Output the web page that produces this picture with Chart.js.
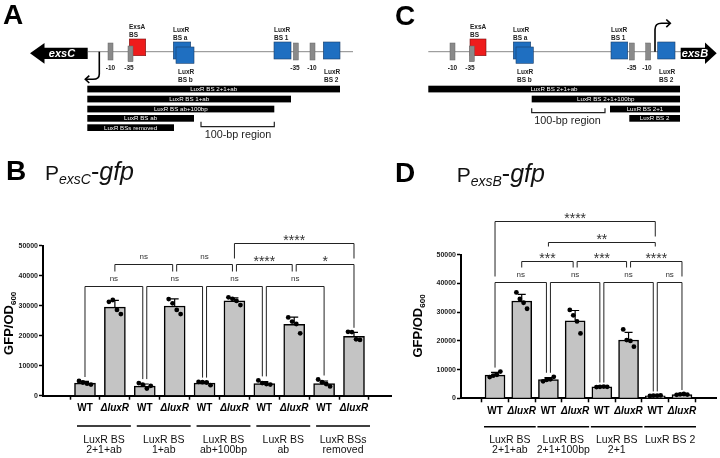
<!DOCTYPE html>
<html>
<head>
<meta charset="utf-8">
<script src="https://cdn.jsdelivr.net/npm/chart.js@4.4.1/dist/chart.umd.min.js"></script>
<style>
  body { margin: 0; background: #fff; font-family: 'Liberation Sans', Arial, sans-serif; }
  #fig { position: relative; width: 720px; height: 458px; overflow: hidden; }
  #chartB { position: absolute; left: 0; top: 150px; }
  #chartD { position: absolute; left: 360px; top: 150px; }
  svg { position: absolute; left: 0; top: 0; }
  .panel { font: bold 28px 'Liberation Sans', Arial, sans-serif; }
  .lbl { font: bold 6.5px 'Liberation Sans', Arial, sans-serif; fill: #222; }
  .bar { font: 6.2px 'Liberation Sans', Arial, sans-serif; fill: #fff; }
  .gene { font: italic bold 11px 'Liberation Sans', Arial, sans-serif; fill: #fff; }
  .reg { font: 10.8px 'Liberation Sans', Arial, sans-serif; fill: #222; }
  .grey { fill: #8a8a8a; stroke: #666; stroke-width: .5; }
  .blue { fill: #1f6fc1; stroke: #1b3f6a; stroke-width: .6; }
  .red { fill: #ee1c1c; stroke: #7a1010; stroke-width: .6; }
</style>
</head>
<body>
<div id="fig">
<canvas id="chartB" width="395" height="308"></canvas>
<canvas id="chartD" width="360" height="308"></canvas>
<svg width="720" height="458" xmlns="http://www.w3.org/2000/svg">
  <!-- panel A -->
  <text x="3" y="24" class="panel">A</text>
  <line x1="88" y1="51.7" x2="353" y2="51.7" stroke="#888" stroke-width="1"/>
  <polygon points="30,53.3 44.5,43 44.5,47.7 87.7,47.7 87.7,59 44.5,59 44.5,63.7" fill="#000"/>
  <text x="62" y="57.4" class="gene" text-anchor="middle">exsC</text>
  <rect x="108" y="43" width="5" height="17" class="grey"/>
  <rect x="129.3" y="39" width="16.4" height="16.7" class="red"/>
  <rect x="128" y="46" width="5" height="15.7" class="grey"/>
  <rect x="173.3" y="42" width="17.4" height="17" class="blue"/>
  <rect x="176" y="47" width="18" height="16.3" class="blue"/>
  <rect x="274" y="42" width="17" height="17" class="blue"/>
  <rect x="293.3" y="43" width="5" height="17" class="grey"/>
  <rect x="310" y="43" width="5" height="17" class="grey"/>
  <rect x="323.3" y="42" width="16.7" height="17" class="blue"/>
  <text x="110.5" y="70" class="lbl" text-anchor="middle">-10</text>
  <text x="129" y="70" class="lbl" text-anchor="middle">-35</text>
  <text x="129" y="28.5" class="lbl">ExsA</text><text x="129" y="37" class="lbl">BS</text>
  <text x="173" y="31.5" class="lbl">LuxR</text><text x="173" y="40" class="lbl">BS a</text>
  <text x="178" y="73.5" class="lbl">LuxR</text><text x="178" y="82" class="lbl">BS b</text>
  <text x="274" y="31.5" class="lbl">LuxR</text><text x="274" y="40" class="lbl">BS 1</text>
  <text x="295" y="69.5" class="lbl" text-anchor="middle">-35</text>
  <text x="312" y="69.5" class="lbl" text-anchor="middle">-10</text>
  <text x="324" y="73.5" class="lbl">LuxR</text><text x="324" y="82" class="lbl">BS 2</text>
  <path d="M99.3 51.7 V74 Q99.3 79.3 93 79.3 H85.5" fill="none" stroke="#000" stroke-width="1.6"/>
  <polyline points="89.3,75.6 85.3,79.3 89.3,83" fill="none" stroke="#000" stroke-width="1.6"/>
  <rect x="87.3" y="85.7" width="252.7" height="6.7" fill="#000"/>
  <text x="213.7" y="90.9" class="bar" text-anchor="middle">LuxR BS 2+1+ab</text>
  <rect x="87.3" y="95.7" width="203.7" height="6.7" fill="#000"/>
  <text x="189.2" y="100.9" class="bar" text-anchor="middle">LuxR BS 1+ab</text>
  <rect x="87.3" y="105.7" width="187" height="6.7" fill="#000"/>
  <text x="180.8" y="110.9" class="bar" text-anchor="middle">LuxR BS ab+100bp</text>
  <rect x="87.3" y="115" width="106.7" height="6.7" fill="#000"/>
  <text x="140.6" y="120.2" class="bar" text-anchor="middle">LuxR BS ab</text>
  <rect x="87.3" y="124.3" width="86.7" height="6.7" fill="#000"/>
  <text x="130.6" y="129.5" class="bar" text-anchor="middle">LuxR BSs removed</text>
  <path d="M201 121.7 V126.7 H274.3 V121.7" fill="none" stroke="#222" stroke-width="1.2"/>
  <text x="238" y="138" class="reg" text-anchor="middle">100-bp region</text>

  <!-- panel C -->
  <text x="395" y="25" class="panel">C</text>
  <line x1="428.3" y1="51.7" x2="681" y2="51.7" stroke="#888" stroke-width="1"/>
  <rect x="450" y="43" width="5" height="17" class="grey"/>
  <rect x="470" y="39" width="16" height="16.7" class="red"/>
  <rect x="469.3" y="46" width="5" height="15.7" class="grey"/>
  <rect x="513.3" y="42" width="17.4" height="17" class="blue"/>
  <rect x="516" y="47" width="17.3" height="16.3" class="blue"/>
  <rect x="611" y="42" width="16.7" height="17" class="blue"/>
  <rect x="629.3" y="43" width="5" height="17" class="grey"/>
  <rect x="645.7" y="43" width="5" height="17" class="grey"/>
  <rect x="657.7" y="42" width="17.3" height="17" class="blue"/>
  <polygon points="680.7,47.7 705,47.7 705,42.5 716.7,53.3 705,64 705,59 680.7,59" fill="#000"/>
  <text x="695" y="57.4" class="gene" text-anchor="middle">exsB</text>
  <text x="452.5" y="70" class="lbl" text-anchor="middle">-10</text>
  <text x="470" y="70" class="lbl" text-anchor="middle">-35</text>
  <text x="470" y="28.5" class="lbl">ExsA</text><text x="470" y="37" class="lbl">BS</text>
  <text x="513" y="31.5" class="lbl">LuxR</text><text x="513" y="40" class="lbl">BS a</text>
  <text x="517" y="73.5" class="lbl">LuxR</text><text x="517" y="82" class="lbl">BS b</text>
  <text x="611" y="31.5" class="lbl">LuxR</text><text x="611" y="40" class="lbl">BS 1</text>
  <text x="631.7" y="69.5" class="lbl" text-anchor="middle">-35</text>
  <text x="647" y="69.5" class="lbl" text-anchor="middle">-10</text>
  <text x="659" y="73.5" class="lbl">LuxR</text><text x="659" y="82" class="lbl">BS 2</text>
  <path d="M655 51.7 V29.5 Q655 23.3 661.5 23.3 H670" fill="none" stroke="#000" stroke-width="1.6"/>
  <polyline points="666.3,19.5 670.3,23.3 666.3,27.1" fill="none" stroke="#000" stroke-width="1.6"/>
  <rect x="428.3" y="85.7" width="251.7" height="6.7" fill="#000"/>
  <text x="554" y="90.9" class="bar" text-anchor="middle">LuxR BS 2+1+ab</text>
  <rect x="531.7" y="95.7" width="148.3" height="6.7" fill="#000"/>
  <text x="605.8" y="100.9" class="bar" text-anchor="middle">LuxR BS 2+1+100bp</text>
  <rect x="610" y="105.7" width="70" height="6.7" fill="#000"/>
  <text x="645" y="110.9" class="bar" text-anchor="middle">LuxR BS 2+1</text>
  <rect x="629.3" y="115" width="50.7" height="6.7" fill="#000"/>
  <text x="654.6" y="120.2" class="bar" text-anchor="middle">LuxR BS 2</text>
  <path d="M531.7 108.3 V112.7 H605 V108.3" fill="none" stroke="#222" stroke-width="1.2"/>
  <text x="567.5" y="123.5" class="reg" text-anchor="middle">100-bp region</text>

  <!-- titles B and D -->
  <text x="6" y="180" class="panel">B</text>
  <text x="45" y="180" font-family="Liberation Sans, Arial, sans-serif" fill="#111"><tspan font-size="21">P</tspan><tspan font-size="14" font-style="italic" dy="4">exsC</tspan><tspan font-size="25" dy="-4">-</tspan><tspan font-size="25" font-style="italic">gfp</tspan></text>
  <text x="395" y="181.5" class="panel">D</text>
  <text x="456.7" y="181.5" font-family="Liberation Sans, Arial, sans-serif" fill="#111"><tspan font-size="21">P</tspan><tspan font-size="14" font-style="italic" dy="4">exsB</tspan><tspan font-size="25" dy="-4">-</tspan><tspan font-size="25" font-style="italic">gfp</tspan></text>
</svg>
</div>

<script>
// ---- panel B data (P_exsC-gfp) ----
const bLabels = ['WT', 'ΔluxR', 'WT', 'ΔluxR', 'WT', 'ΔluxR', 'WT', 'ΔluxR', 'WT', 'ΔluxR'];
const bMeans = [4200, 29500, 3200, 29900, 4200, 31600, 4000, 23800, 4000, 19800];
const bSd = [600, 2300, 700, 2400, 500, 1000, 700, 2400, 900, 1300];
const bDots = [
  [4900, 4400, 4000, 3700], [31300, 31900, 28600, 27200],
  [4200, 3700, 2400, 3300], [32200, 30800, 28600, 27200],
  [4600, 4500, 4400, 3500], [32800, 32300, 31600, 30200],
  [5100, 4200, 3900, 3700], [26100, 24700, 23900, 20800],
  [5400, 4500, 3900, 3100], [21300, 21200, 18800, 18600]
];
const bGroups = [['LuxR BS', '2+1+ab'], ['LuxR BS', '1+ab'], ['LuxR BS', 'ab+100bp'], ['LuxR BS', 'ab'], ['LuxR BSs', 'removed']];
// [from bar, to bar, label, level]
const bBrackets = [
  [0, 2, 'ns', 0], [2, 4, 'ns', 0], [4, 6, 'ns', 0], [6, 8, 'ns', 0],
  [1, 3, 'ns', 1], [3, 5, 'ns', 1], [5, 7, '****', 1], [7, 9, '*', 1],
  [5, 9, '****', 2]
];

// ---- panel D data (P_exsB-gfp) ----
const dLabels = ['WT', 'ΔluxR', 'WT', 'ΔluxR', 'WT', 'ΔluxR', 'WT', 'ΔluxR'];
const dMeans = [8100, 33900, 6500, 27000, 4000, 20300, 900, 1300];
const dSd = [900, 2300, 700, 3600, 100, 2700, 100, 150];
const dDots = [
  [7400, 7900, 8200, 9300], [36900, 34600, 33300, 31200],
  [5900, 6400, 6600, 7500], [30800, 28900, 26800, 22600],
  [3900, 4000, 4100, 4000], [24000, 20300, 20000, 18000],
  [800, 900, 900, 1000], [1200, 1400, 1500, 1300]
];
const dGroups = [['LuxR BS', '2+1+ab'], ['LuxR BS', '2+1+100bp'], ['LuxR BS', '2+1'], ['LuxR BS 2']];
const dBrackets = [
  [0, 2, 'ns', 0], [2, 4, 'ns', 0], [4, 6, 'ns', 0], [6, 7, 'ns', 0],
  [1, 3, '***', 1], [3, 5, '***', 1], [5, 7, '****', 1],
  [2, 6, '**', 2],
  [0, 6, '****', 3]
];

const yTicks = [0, 10000, 20000, 30000, 40000, 50000];
const FONT = "'Liberation Sans', Arial, sans-serif";
const jitter = [-0.2, -0.07, 0.07, 0.2];

function extras(cfg) {
  return {
    id: 'extras',
    afterDatasetDraw(chart, args) {
      if (args.meta.type !== 'bar') return;
      const ctx = chart.ctx, xs = chart.scales.x, ys = chart.scales.y;
      ctx.save();
      ctx.strokeStyle = '#000';
      ctx.lineWidth = 1.2;
      cfg.means.forEach((m, i) => {
        const x = xs.getPixelForValue(i);
        const y0 = ys.getPixelForValue(m), y1 = ys.getPixelForValue(m + cfg.sd[i]);
        ctx.beginPath();
        ctx.moveTo(x, y0); ctx.lineTo(x, y1);
        ctx.moveTo(x - 4, y1); ctx.lineTo(x + 4, y1);
        ctx.stroke();
      });
      ctx.restore();
    },
    afterDraw(chart) {
      const ctx = chart.ctx, xs = chart.scales.x, ys = chart.scales.y;
      ctx.save();

      // significance brackets
      const items = cfg.brackets.map(([a, b, txt, lv]) => ({ a, b, txt, lv, y: Math.round(ys.getPixelForValue(cfg.levels[lv])) + 0.5 }));
      const fontFor = t => t === 'ns' ? `8px ${FONT}` : `14px ${FONT}`;
      const legX = (br, k) => {
        let x = xs.getPixelForValue(k);
        const shared = items.some(o => o !== br && o.lv === br.lv && (o.a === k || o.b === k));
        if (shared) x += (k === br.a ? 2 : -2);
        return x;
      };
      items.forEach(br => {
        br.xa = legX(br, br.a); br.xb = legX(br, br.b);
        br.xm = (br.xa + br.xb) / 2;
        ctx.font = fontFor(br.txt);
        br.tw = ctx.measureText(br.txt).width;
      });
      const legBottom = (br, k, x) => {
        const below = items.filter(o => o.lv < br.lv && o.a <= k && o.b >= k).sort((p, q) => q.lv - p.lv)[0];
        if (below) return Math.abs(x - below.xm) < below.tw / 2 + 3 ? below.y - 15 : below.y - 6;
        const top = Math.max(cfg.means[k] + cfg.sd[k], ...cfg.dots[k]);
        return ys.getPixelForValue(top) - 4;
      };
      ctx.strokeStyle = '#222';
      ctx.lineWidth = 1;
      items.forEach(br => {
        ctx.beginPath();
        ctx.moveTo(br.xa, legBottom(br, br.a, br.xa));
        ctx.lineTo(br.xa, br.y);
        ctx.lineTo(br.xb, br.y);
        ctx.lineTo(br.xb, legBottom(br, br.b, br.xb));
        ctx.stroke();
        ctx.font = fontFor(br.txt);
        ctx.fillStyle = '#333';
        ctx.textAlign = 'center';
        ctx.textBaseline = 'alphabetic';
        ctx.fillText(br.txt, br.xm, br.txt === 'ns' ? br.y - 5.5 : br.y + 1);
      });

      // group underlines and labels
      ctx.strokeStyle = '#000';
      ctx.lineWidth = 1.5;
      ctx.fillStyle = '#111';
      ctx.font = `10.5px ${FONT}`;
      ctx.textAlign = 'center';
      cfg.groups.forEach((g, gi) => {
        const x0 = xs.getPixelForValue(2 * gi) - cfg.lineL;
        const x1 = xs.getPixelForValue(2 * gi + 1) + cfg.lineR;
        ctx.beginPath();
        ctx.moveTo(x0, cfg.lineY); ctx.lineTo(x1, cfg.lineY);
        ctx.stroke();
        g.forEach((s, li) => ctx.fillText(s, (x0 + x1) / 2, cfg.textY + li * 9.8));
      });

      // y-axis title with subscript
      ctx.translate(cfg.titleX, cfg.titleY);
      ctx.rotate(-Math.PI / 2);
      ctx.fillStyle = '#000';
      ctx.textAlign = 'left';
      ctx.font = `bold 13px ${FONT}`;
      const w1 = ctx.measureText('GFP/OD').width;
      ctx.font = `bold 8px ${FONT}`;
      const w2 = ctx.measureText('600').width;
      const sx = -(w1 + w2) / 2;
      ctx.font = `bold 13px ${FONT}`;
      ctx.fillText('GFP/OD', sx, 4.5);
      ctx.font = `bold 8px ${FONT}`;
      ctx.fillText('600', sx + w1, 7.5);
      ctx.restore();
    }
  };
}

function makeChart(id, cfg) {
  const bars = cfg.means.map((v, i) => ({ x: i, y: v }));
  const dots = [];
  cfg.dots.forEach((arr, i) => arr.forEach((v, j) => dots.push({ x: i + jitter[j], y: v })));
  return new Chart(document.getElementById(id), {
    type: 'bar',
    data: {
      datasets: [
        { type: 'scatter', data: dots, backgroundColor: '#000', borderWidth: 0, pointRadius: 2.4 },
        { type: 'bar', data: bars, backgroundColor: '#c4c4c4', borderColor: '#000', borderWidth: 1.5, barThickness: cfg.barW }
      ]
    },
    options: {
      responsive: false,
      animation: false,
      events: [],
      devicePixelRatio: 1,
      layout: { padding: { top: cfg.padTop, right: cfg.padRight, left: 0, bottom: 0 } },
      plugins: { legend: { display: false }, tooltip: { enabled: false } },
      scales: {
        x: {
          type: 'linear',
          min: cfg.xMin,
          max: cfg.xMax,
          afterFit: s => { s.height = cfg.xAxisH; },
          border: { display: true, color: '#000', width: 2 },
          grid: { display: true, drawOnChartArea: false, drawTicks: true, tickLength: 4, tickColor: '#000', tickWidth: 1.5 },
          ticks: {
            stepSize: 1,
            includeBounds: false,
            autoSkip: false,
            maxRotation: 0,
            padding: 3,
            color: '#000',
            callback: v => Number.isInteger(v) ? cfg.labels[v] : '',
            font: c => ({ family: FONT, size: 10, weight: 'bold', style: (c.tick && c.tick.value % 2 === 1) ? 'italic' : 'normal' })
          }
        },
        y: {
          min: 0,
          max: 50000,
          afterFit: s => { s.width = cfg.yAxisW; },
          afterBuildTicks: s => { s.ticks = yTicks.map(v => ({ value: v })); },
          border: { display: true, color: '#000', width: 2 },
          grid: { display: true, drawOnChartArea: false, drawTicks: true, tickLength: 4, tickColor: '#000', tickWidth: 1.5 },
          ticks: { padding: 1, color: '#222', font: { family: FONT, size: 7, weight: 'bold' }, callback: v => String(v) }
        }
      }
    },
    plugins: [extras(cfg)]
  });
}

makeChart('chartB', {
  labels: bLabels, means: bMeans, sd: bSd, dots: bDots, groups: bGroups, brackets: bBrackets,
  levels: [36700, 43800, 51000],
  xMin: -0.823, xMax: 9.656, barW: 21,
  yAxisW: 43, xAxisH: 62.3, padTop: 95.7, padRight: 2,
  lineY: 276, lineL: 8, lineR: 16, textY: 292.7,
  titleX: 8.5, titleY: 173.3
});

makeChart('chartD', {
  labels: dLabels, means: dMeans, sd: dSd, dots: dDots, groups: dGroups, brackets: dBrackets,
  levels: [40600, 47800, 54600, 61900],
  xMin: -0.677, xMax: 7.677, barW: 20,
  yAxisW: 101, xAxisH: 59.7, padTop: 104.8, padRight: 0,
  lineY: 276.7, lineL: 11, lineR: 14, textY: 292.7,
  titleX: 57, titleY: 176
});
</script>
</body>
</html>
